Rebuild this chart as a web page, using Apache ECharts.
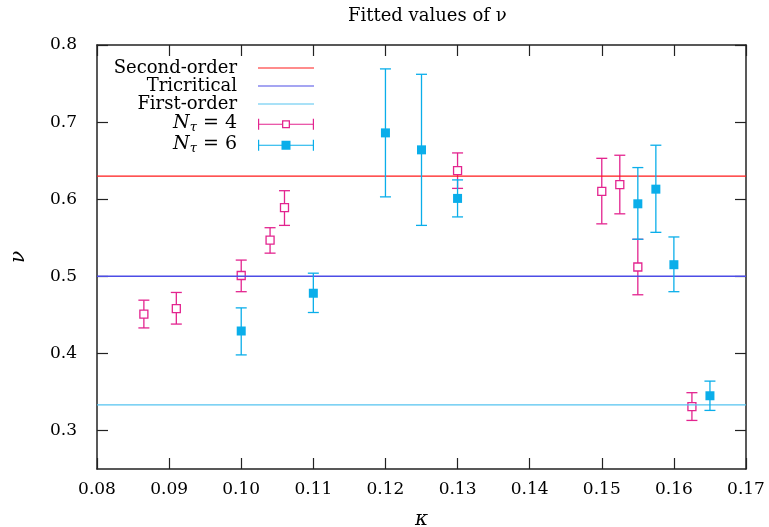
<!DOCTYPE html>
<html>
<head>
<meta charset="utf-8">
<script src="https://cdn.jsdelivr.net/npm/echarts@6/dist/echarts.min.js"></script>
<style>html,body{margin:0;padding:0;background:#fff}#c{width:769px;height:527px}</style>
</head>
<body>
<div id="c"></div>
<script>
// ---- data ----
const xTicks = [0.08, 0.09, 0.10, 0.11, 0.12, 0.13, 0.14, 0.15, 0.16, 0.17];
const yTicks = [0.3, 0.4, 0.5, 0.6, 0.7, 0.8];
const secondOrder = 0.63;
const tricritical = 0.5;
const firstOrder = 0.3333;
// [kappa, nu, nu_low, nu_high]
const nt4 = [
  [0.0865, 0.451, 0.433, 0.469],
  [0.0910, 0.458, 0.438, 0.479],
  [0.1000, 0.501, 0.480, 0.521],
  [0.1040, 0.547, 0.530, 0.563],
  [0.1060, 0.589, 0.566, 0.611],
  [0.1300, 0.637, 0.614, 0.660],
  [0.1500, 0.610, 0.568, 0.653],
  [0.1525, 0.619, 0.581, 0.657],
  [0.1550, 0.512, 0.476, 0.548],
  [0.1625, 0.331, 0.313, 0.349]
];
const nt6 = [
  [0.1000, 0.429, 0.398, 0.459],
  [0.1100, 0.478, 0.453, 0.504],
  [0.1200, 0.686, 0.603, 0.769],
  [0.1250, 0.664, 0.566, 0.762],
  [0.1300, 0.601, 0.577, 0.625],
  [0.1550, 0.594, 0.548, 0.641],
  [0.1575, 0.613, 0.557, 0.670],
  [0.1600, 0.515, 0.480, 0.551],
  [0.1650, 0.345, 0.326, 0.364]
];
const xRange = [0.08, 0.17];
const yRange = [0.25, 0.8];

// ---- styles ----
const FONT = 'DejaVu Serif';
const C_RED = '#ff1a1a', C_TRI = '#4d4de6', C_FIRST = '#55c3f0', C_PINK = '#e3248f', C_BLUE = '#0aaeea';

function errRender(filled) {
  return function (params, api) {
    const x = api.value(0), y = api.value(1), lo = api.value(2), hi = api.value(3);
    const p = api.coord([x, y]), pl = api.coord([x, lo]), ph = api.coord([x, hi]);
    const color = api.visual('color');
    const hw = 5.5, s = filled ? 9 : 8;
    const ls = { stroke: color, lineWidth: 1.3 };
    return {
      type: 'group',
      children: [
        { type: 'line', shape: { x1: pl[0], y1: pl[1], x2: ph[0], y2: ph[1] }, style: ls },
        { type: 'line', shape: { x1: pl[0] - hw, y1: pl[1], x2: pl[0] + hw, y2: pl[1] }, style: ls },
        { type: 'line', shape: { x1: ph[0] - hw, y1: ph[1], x2: ph[0] + hw, y2: ph[1] }, style: ls },
        { type: 'rect', shape: { x: p[0] - s / 2, y: p[1] - s / 2, width: s, height: s },
          style: filled ? { fill: color } : { fill: '#fff', stroke: color, lineWidth: 1.3 } }
      ]
    };
  };
}

// legend icons (72 x 14 box, sample drawn in 16..72)
const ICON_LINE = 'path://M0,0L0,0ZM0,14L0,14ZM16,6.4L72,6.4L72,7.6L16,7.6Z';
const ICON_OPEN = 'path://M0,0L0,0ZM16,1.5L17.2,1.5L17.2,12.5L16,12.5ZM70.8,1.5L72,1.5L72,12.5L70.8,12.5Z' +
  'M17.2,6.4L40,6.4L40,7.6L17.2,7.6ZM48,6.4L70.8,6.4L70.8,7.6L48,7.6Z' +
  'M40,3L48,3L48,11L40,11ZM41.3,4.3L41.3,9.7L46.7,9.7L46.7,4.3Z';
const ICON_FILL = 'path://M0,0L0,0ZM16,1.5L17.2,1.5L17.2,12.5L16,12.5ZM70.8,1.5L72,1.5L72,12.5L70.8,12.5Z' +
  'M17.2,6.4L70.8,6.4L70.8,7.6L17.2,7.6Z' +
  'M39.5,2.5L48.5,2.5L48.5,11.5L39.5,11.5Z';

const legendNames = { 'Nt4': '{i|N}{s|τ}{t| = 4}', 'Nt6': '{i|N}{s|τ}{t| = 6}' };

const axisLineStyle = { color: '#222', width: 1.5 };
const tickStyle = { color: '#222', width: 1.2 };

const option = {
  animation: false,
  backgroundColor: '#fff',
  title: {
    text: 'Fitted values of ν',
    left: 343, top: 2,
    textStyle: { fontFamily: FONT, fontSize: 18, fontWeight: 'normal', color: '#000' }
  },
  grid: { left: 97, right: 23, top: 45, bottom: 58, containLabel: false, outerBoundsMode: 'none' },
  legend: {
    orient: 'vertical', align: 'right',
    right: 455, top: 59, padding: 0, itemGap: 0,
    itemWidth: 72, itemHeight: 14,
    selectedMode: false,
    itemStyle: { borderWidth: 0 },
    data: [
      { name: 'Second-order', icon: ICON_LINE },
      { name: 'Tricritical', icon: ICON_LINE },
      { name: 'First-order', icon: ICON_LINE },
      { name: 'Nt4', icon: ICON_OPEN },
      { name: 'Nt6', icon: ICON_FILL }
    ],
    formatter: function (n) { return legendNames[n] || n; },
    textStyle: {
      fontFamily: FONT, fontSize: 18, color: '#000', lineHeight: 18,
      rich: {
        i: { fontFamily: FONT, fontStyle: 'italic', fontSize: 19, color: '#000', lineHeight: 21 },
        s: { fontFamily: FONT, fontStyle: 'italic', fontSize: 13, color: '#000', verticalAlign: 'bottom', lineHeight: 13 },
        t: { fontFamily: FONT, fontSize: 19, color: '#000', lineHeight: 21 }
      }
    }
  },
  xAxis: [
    {
      type: 'value', position: 'bottom', min: xRange[0], max: xRange[1], interval: 0.01,
      name: 'κ', nameLocation: 'middle', nameGap: 41,
      nameTextStyle: { fontFamily: FONT, fontStyle: 'italic', fontSize: 20, color: '#000' },
      axisLine: { lineStyle: axisLineStyle },
      axisTick: { inside: true, length: 11, lineStyle: tickStyle },
      axisLabel: { margin: 12, fontFamily: FONT, fontSize: 17, color: '#000',
        formatter: v => v.toFixed(2) },
      splitLine: { show: false }
    },
    {
      type: 'value', position: 'top', min: xRange[0], max: xRange[1], interval: 0.01,
      axisLine: { lineStyle: axisLineStyle },
      axisTick: { inside: true, length: 11, lineStyle: tickStyle },
      axisLabel: { show: false }, splitLine: { show: false }
    }
  ],
  yAxis: [
    {
      type: 'value', position: 'left', min: yRange[0], max: yRange[1],
      name: 'ν', nameLocation: 'middle', nameGap: 68, nameRotate: 90,
      nameTextStyle: { fontFamily: FONT, fontStyle: 'italic', fontSize: 20, color: '#000' },
      axisLine: { lineStyle: axisLineStyle },
      axisTick: { inside: true, length: 11, lineStyle: tickStyle, customValues: yTicks },
      axisLabel: { margin: 20, fontFamily: FONT, fontSize: 17, color: '#000',
        customValues: yTicks, formatter: v => v.toFixed(1) },
      splitLine: { show: false }
    },
    {
      type: 'value', position: 'right', min: yRange[0], max: yRange[1],
      axisLine: { lineStyle: axisLineStyle },
      axisTick: { inside: true, length: 11, lineStyle: tickStyle, customValues: yTicks },
      axisLabel: { show: false, customValues: yTicks }, splitLine: { show: false }
    }
  ],
  series: [
    { name: 'Second-order', type: 'line', symbol: 'none', silent: true,
      itemStyle: { color: C_RED }, lineStyle: { color: C_RED, width: 1.3 },
      data: [[xRange[0], secondOrder], [xRange[1], secondOrder]] },
    { name: 'Tricritical', type: 'line', symbol: 'none', silent: true,
      itemStyle: { color: C_TRI }, lineStyle: { color: C_TRI, width: 1.3 },
      data: [[xRange[0], tricritical], [xRange[1], tricritical]] },
    { name: 'First-order', type: 'line', symbol: 'none', silent: true,
      itemStyle: { color: C_FIRST }, lineStyle: { color: C_FIRST, width: 1.3 },
      data: [[xRange[0], firstOrder], [xRange[1], firstOrder]] },
    { name: 'Nt4', type: 'custom', renderItem: errRender(false),
      itemStyle: { color: C_PINK }, encode: { x: 0, y: 1 }, data: nt4, z: 3 },
    { name: 'Nt6', type: 'custom', renderItem: errRender(true),
      itemStyle: { color: C_BLUE }, encode: { x: 0, y: 1 }, data: nt6, z: 4 }
  ]
};

const chart = echarts.init(document.getElementById('c'), null, { renderer: 'canvas' });
chart.setOption(option);
</script>
</body>
</html>
